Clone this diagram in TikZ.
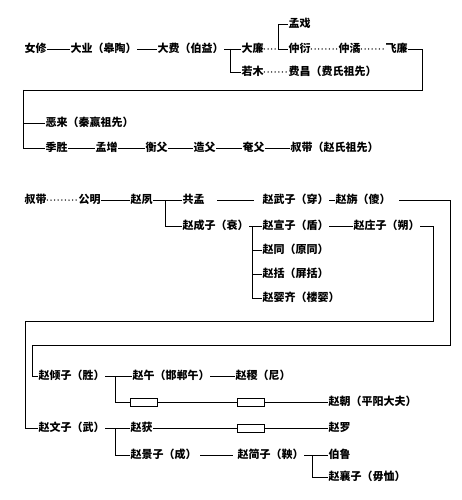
\documentclass[tikz,border=0pt]{standalone}
\usepackage{fontspec}
\newfontfamily\cjk{Noto Sans CJK SC}
\begin{document}
\begin{tikzpicture}[x=1pt,y=-1pt,
  nm/.style={font=\cjk\bfseries\fontsize{11}{12}\selectfont, anchor=west, inner sep=0.5pt, text height=0.88em, text depth=0.12em},
  ln/.style={line width=0.9pt},
  dt/.style={line width=1.5pt, dash pattern=on 0pt off 3.6pt, line cap=round},
  bx/.style={draw, line width=0.8pt, minimum width=27pt, minimum height=8pt, inner sep=0pt}]
\useasboundingbox (0,0) rectangle (462,500);
% ---- section 1
\node[nm] (a1) at (24,49) {女修};
\node[nm] (a2) at (70,49) {大业（皋陶）};
\node[nm] (a3) at (157,49) {大费（伯益）};
\node[nm] (a4) at (241,49) {大廉};
\node[nm] (a5) at (288,24) {孟戏};
\node[nm] (a6) at (288,49) {仲衍};
\node[nm] (a7) at (338,49) {仲潏};
\node[nm] (a8) at (385,49) {飞廉};
\node[nm] (a9) at (241,72) {若木};
\node[nm] (a10) at (288,72) {费昌（费氏祖先）};
\node[nm] (b1) at (45,123) {恶来（秦嬴祖先）};
\node[nm] (b2) at (45,148) {季胜};
\node[nm] (b3) at (95,148) {孟增};
\node[nm] (b4) at (145,148) {衡父};
\node[nm] (b5) at (193,148) {造父};
\node[nm] (b6) at (242,148) {奄父};
\node[nm] (b7) at (290,148) {叔带（赵氏祖先）};
\coordinate (j1) at (230,49);
\coordinate (j2) at (278,49);
\coordinate (k1) at (422,90);
\coordinate (k2) at (23,90);
\draw[ln] (a1.east) -- (a2.west);
\draw[ln] (a2.east) -- (a3.west);
\draw[ln] (a3.east) -- (a4.west);
\draw[ln] (j1) |- (a9.west);
\draw[dt] (a4.east) -- (j2);
\draw[ln] (a5.west) -| (j2) -- (a6.west);
\draw[dt] (a6.east) -- (a7.west);
\draw[dt] (a7.east) -- (a8.west);
\draw[dt] (a9.east) -- (a10.west);
\draw[ln] (a8.east) -| (k1) -- (k2) |- (b2.west);
\draw[ln] (k2) |- (b1.west);
\draw[ln] (b2.east) -- (b3.west);
\draw[ln] (b3.east) -- (b4.west);
\draw[ln] (b4.east) -- (b5.west);
\draw[ln] (b5.east) -- (b6.west);
\draw[ln] (b6.east) -- (b7.west);
% ---- section 2
\node[nm] (c1) at (24,200) {叔带};
\node[nm] (c2) at (78,200) {公明};
\node[nm] (c3) at (130,200) {赵夙};
\node[nm] (c4) at (182,200) {共孟};
\node[nm] (c5) at (182,226) {赵成子（衰）};
\node[nm] (c6) at (262,200) {赵武子（穿）};
\node[nm] (c7) at (335,200) {赵旃（傻）};
\node[nm] (c8) at (262,226) {赵宣子（盾）};
\node[nm] (c9) at (353,226) {赵庄子（朔）};
\node[nm] (c10) at (262,250) {赵同（原同）};
\node[nm] (c11) at (262,274) {赵括（屏括）};
\node[nm] (c12) at (262,298) {赵婴齐（楼婴）};
\coordinate (j3) at (165,200);
\coordinate (j4) at (252,226);
\coordinate (m1) at (450,345);
\coordinate (m2) at (32,345);
\coordinate (n1) at (433,321);
\coordinate (n2) at (25,321);
\draw[dt] (c1.east) -- (c2.west);
\draw[ln] (c2.east) -- (c3.west);
\draw[ln] (c3.east) -- (c4.west);
\draw[ln] (j3) |- (c5.west);
\draw[ln, shorten <=12pt, shorten >=8pt] (c4.east) -- (c6.west);
\draw[ln] (c6.east) -- (c7.west);
\draw[ln] (c5.east) -- (c8.west);
\draw[ln] (j4) |- (c10.west);
\draw[ln] (j4) |- (c11.west);
\draw[ln] (j4) |- (c12.west);
\draw[ln] (c8.east) -- (c9.west);
% ---- section 3
\node[nm] (d1) at (38,376) {赵倾子（胜）};
\node[nm] (d2) at (132,376) {赵午（邯郸午）};
\node[nm] (d3) at (235,376) {赵稷（尼）};
\node[bx] (r1) at (143.5,402) {};
\node[bx] (r2) at (250.5,402) {};
\node[nm] (d4) at (328,402) {赵朝（平阳大夫）};
\node[nm] (d5) at (38,428) {赵文子（武）};
\node[nm] (d6) at (130,428) {赵获};
\node[bx] (r3) at (250.5,428) {};
\node[nm] (d7) at (328,428) {赵罗};
\node[nm] (d8) at (130,455) {赵景子（成）};
\node[nm] (d9) at (237,455) {赵简子（鞅）};
\node[nm] (d10) at (328,455) {伯鲁};
\node[nm] (d11) at (328,477) {赵襄子（毋恤）};
\coordinate (p1) at (115,376);
\coordinate (p2) at (115,428);
\coordinate (p3) at (312,455);
\draw[ln, shorten <=8pt] (c7.east) -| (m1) -- (m2) |- (d1.west);
\draw[ln] (c9.east) -| (n1) -- (n2) |- (d5.west);
\draw[ln] (d1.east) -- (d2.west);
\draw[ln] (d2.east) -- (d3.west);
\draw[ln] (p1) |- (r1.west);
\draw[ln] (r1.east) -- (r2.west);
\draw[ln] (r2.east) -- (d4.west);
\draw[ln] (d5.east) -- (d6.west);
\draw[ln] (p2) |- (d8.west);
\draw[ln] (d6.east) -- (r3.west);
\draw[ln] (r3.east) -- (d7.west);
\draw[ln, shorten <=3pt, shorten >=4pt] (d8.east) -- (d9.west);
\draw[ln] (d9.east) -- (d10.west);
\draw[ln] (p3) |- (d11.west);
\end{tikzpicture}
\end{document}
